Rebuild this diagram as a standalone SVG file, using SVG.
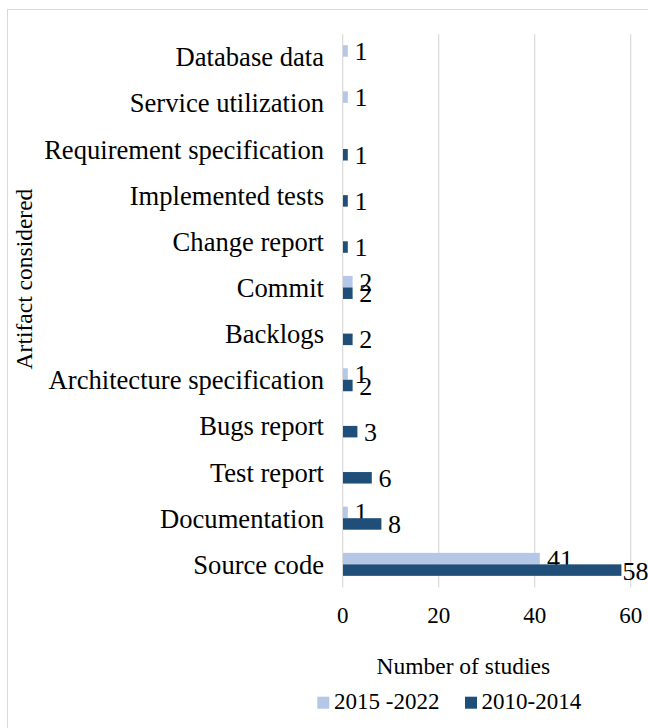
<svg xmlns="http://www.w3.org/2000/svg" width="648" height="728" viewBox="0 0 648 728">
<style>
.cat{font-size:26.6px;text-anchor:end}
.val{font-size:26px}
.tick{font-size:23px;text-anchor:middle}
.ttl{font-size:23.5px;text-anchor:middle}
.leg{font-size:23px}
.grid{stroke:#d9d9d9;stroke-width:1.2}
.lt{fill:#b4c7e7}
.dk{fill:#1f4e79}
</style>
<rect x="0" y="0" width="648" height="728" fill="#fff"/>
<rect x="7.5" y="9.5" width="700" height="800" fill="none" stroke="#d9d9d9" stroke-width="1"/>
<g id="gridlines">
<line class="grid" x1="342.7" y1="34" x2="342.7" y2="587.4"/>
<line class="grid" x1="438.7" y1="34" x2="438.7" y2="587.4"/>
<line class="grid" x1="534.7" y1="34" x2="534.7" y2="587.4"/>
<line class="grid" x1="630.7" y1="34" x2="630.7" y2="587.4"/>
</g>
<g font-family="Liberation Serif, Times New Roman, DejaVu Serif, serif" fill="#000">
<g id="categories">
<text class="cat" x="324" y="66.2">Database data</text>
<text class="cat" x="324" y="112.4">Service utilization</text>
<text class="cat" x="324" y="158.5">Requirement specification</text>
<text class="cat" x="324" y="204.7">Implemented tests</text>
<text class="cat" x="324" y="250.8">Change report</text>
<text class="cat" x="324" y="297">Commit</text>
<text class="cat" x="324" y="343.1">Backlogs</text>
<text class="cat" x="324" y="389.3">Architecture specification</text>
<text class="cat" x="324" y="435.4">Bugs report</text>
<text class="cat" x="324" y="481.6">Test report</text>
<text class="cat" x="324" y="527.7">Documentation</text>
<text class="cat" x="324" y="573.9">Source code</text>
</g>
<g id="series-2015-2022">
<rect class="lt" x="343" y="45.2" width="4.8" height="11.5"/>
<rect class="lt" x="343" y="91.35" width="4.8" height="11.5"/>
<rect class="lt" x="343" y="275.95" width="9.6" height="11.5"/>
<rect class="lt" x="343" y="368.25" width="4.8" height="11.5"/>
<rect class="lt" x="343" y="506.7" width="4.8" height="11.5"/>
<rect class="lt" x="343" y="552.85" width="196.8" height="11.5"/>
<text class="val" x="354.5" y="59.9">1</text>
<text class="val" x="354.5" y="106.1">1</text>
<text class="val" x="359.3" y="290.7">2</text>
<text class="val" x="354.5" y="383">1</text>
<text class="val" x="354.5" y="521.4">1</text>
<text class="val" x="547" y="567.6">41</text>
</g>
<g id="series-2010-2014">
<rect class="dk" x="343" y="149" width="4.8" height="11.5"/>
<rect class="dk" x="343" y="195.15" width="4.8" height="11.5"/>
<rect class="dk" x="343" y="241.3" width="4.8" height="11.5"/>
<rect class="dk" x="343" y="287.45" width="9.6" height="11.5"/>
<rect class="dk" x="343" y="333.6" width="9.6" height="11.5"/>
<rect class="dk" x="343" y="379.75" width="9.6" height="11.5"/>
<rect class="dk" x="343" y="425.9" width="14.4" height="11.5"/>
<rect class="dk" x="343" y="472.05" width="28.8" height="11.5"/>
<rect class="dk" x="343" y="518.2" width="38.4" height="11.5"/>
<rect class="dk" x="343" y="564.35" width="278.4" height="11.5"/>
<text class="val" x="354.5" y="163.7">1</text>
<text class="val" x="354.5" y="209.9">1</text>
<text class="val" x="354.5" y="256">1</text>
<text class="val" x="359.3" y="302.2">2</text>
<text class="val" x="359.3" y="348.3">2</text>
<text class="val" x="359.3" y="394.5">2</text>
<text class="val" x="364.1" y="440.6">3</text>
<text class="val" x="378.5" y="486.8">6</text>
<text class="val" x="388.1" y="532.9">8</text>
<text class="val" x="622.5" y="580.1">58</text>
</g>
<g id="x-axis">
<text class="tick" x="342.7" y="623">0</text>
<text class="tick" x="438.7" y="623">20</text>
<text class="tick" x="534.7" y="623">40</text>
<text class="tick" x="630.7" y="623">60</text>
<text class="ttl" x="463.3" y="674">Number of studies</text>
</g>
<g id="y-axis-title">
<text class="ttl" transform="translate(32,279) rotate(-90)" x="0" y="0">Artifact considered</text>
</g>
<g id="legend">
<rect class="lt" x="317.3" y="696.7" width="12" height="12"/>
<text class="leg" x="334" y="709.3">2015 -2022</text>
<rect class="dk" x="465" y="696.7" width="12" height="12"/>
<text class="leg" x="481.5" y="709.3">2010-2014</text>
</g>
</g>
</svg>
